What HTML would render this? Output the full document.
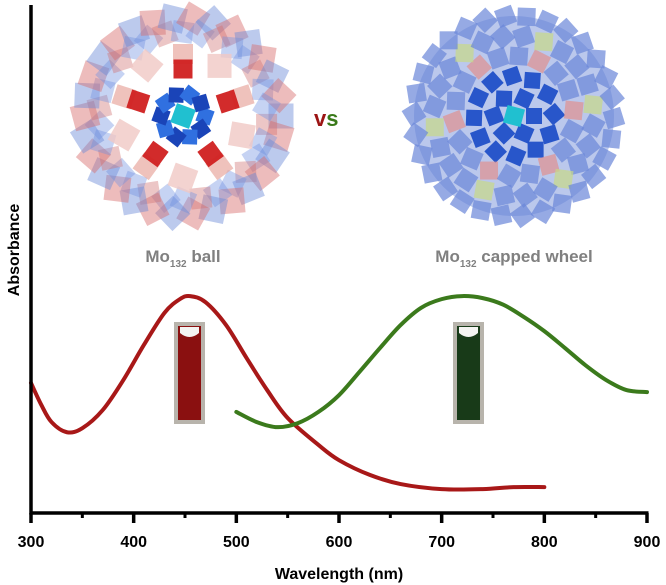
<!DOCTYPE html>
<html><head><meta charset="utf-8"><style>
html,body{margin:0;padding:0;background:#fff;width:666px;height:585px;overflow:hidden}
svg text{font-family:"Liberation Sans",Arial,sans-serif;font-weight:bold}
</style></head><body>
<svg id="chart" width="666" height="585" viewBox="0 0 666 585" xmlns="http://www.w3.org/2000/svg">
<g id="mol"></g>
<g id="marks"></g>
<g id="axes"></g>
<text x="0" y="0" transform="translate(19,250) rotate(-90)" text-anchor="middle" font-size="16" fill="#000">Absorbance</text>
<text x="339" y="579" text-anchor="middle" font-size="16" fill="#000">Wavelength (nm)</text>
<text x="183" y="262" text-anchor="middle" font-size="17" fill="#808080">Mo<tspan font-size="10" dy="5">132</tspan><tspan dy="-5"> ball</tspan></text>
<text x="514" y="262" text-anchor="middle" font-size="17" fill="#808080">Mo<tspan font-size="10" dy="5">132</tspan><tspan dy="-5"> capped wheel</tspan></text>
<text x="314" y="126" font-size="22"><tspan fill="#9c1414">v</tspan><tspan fill="#3a7a1a">s</tspan></text>
</svg>
<script>
const ticks=[300,400,500,600,700,800,900];
const redX=[300,310,320,335,350,370,390,410,430,445,455,470,490,510,530,550,580,600,630,660,700,740,770,800];
const redY=[0.256,0.213,0.179,0.159,0.167,0.203,0.262,0.331,0.394,0.421,0.427,0.415,0.370,0.305,0.242,0.187,0.134,0.104,0.075,0.057,0.047,0.047,0.051,0.051];
const greenX=[500,520,540,560,580,600,620,640,660,680,700,720,740,760,780,800,820,840,860,880,900];
const greenY=[0.199,0.179,0.169,0.177,0.199,0.232,0.278,0.325,0.370,0.404,0.421,0.427,0.423,0.410,0.386,0.358,0.325,0.291,0.262,0.242,0.238];

const NS="http://www.w3.org/2000/svg";
const x0=31,x1=647,yb=513,yt=5;
const xs=v=>x0+(v-300)/(900-300)*(x1-x0);
const ys=v=>yb-v*(yb-yt);
function mk(t,a,p){const e=document.createElementNS(NS,t);for(const k in a)e.setAttribute(k,a[k]);p.appendChild(e);return e;}
const axes=document.getElementById('axes'),marks=document.getElementById('marks'),mol=document.getElementById('mol');

let l=mk('line',{x1:x0,y1:yt,x2:x0,y2:yb+1.5,stroke:'#000','stroke-width':3.5},axes);

l=mk('line',{x1:x0-1.5,y1:yb,x2:x1+1.5,y2:yb,stroke:'#000','stroke-width':3.5},axes);

ticks.forEach((t,i)=>{
  const tk=mk('line',{x1:xs(t),y1:yb,x2:xs(t),y2:yb+10,stroke:'#000','stroke-width':3.5},axes);
  
  
  const tx=mk('text',{x:xs(t),y:yb+34,'text-anchor':'middle','font-size':16,fill:'#000'},axes);
  tx.textContent=t;
  
  
  if(i<ticks.length-1){
    const m=mk('line',{x1:xs(t+50),y1:yb,x2:xs(t+50),y2:yb+5,stroke:'#000','stroke-width':3},axes);
    
    
  }
});

function smoothPath(X,Y){
  const p=X.map((x,i)=>[xs(x),ys(Y[i])]);
  let d='M'+p[0][0]+','+p[0][1];
  for(let i=0;i<p.length-1;i++){
    const a=p[i-1]||p[i],b=p[i],c=p[i+1],e=p[i+2]||c;
    d+=' C'+(b[0]+(c[0]-a[0])/6)+','+(b[1]+(c[1]-a[1])/6)+' '+(c[0]-(e[0]-b[0])/6)+','+(c[1]-(e[1]-b[1])/6)+' '+c[0]+','+c[1];
  }
  return d;
}

function vial(x,col,name){
  const g=mk('g',{},marks);
  
  
  mk('rect',{x:x,y:322,width:31,height:102,fill:'#b8b4ac'},g);
  mk('rect',{x:x+4,y:326,width:23,height:94,fill:col},g);
  mk('path',{d:`M${x+6},327 h19 v6 q-9.5,8 -19,0 z`,fill:'#f4f4f2'},g);
}
vial(174,'#8a1010','red-vial');
vial(453,'#183a18','green-vial');

const r=mk('path',{d:smoothPath(redX,redY),fill:'none',stroke:'#a81818','stroke-width':4,'stroke-linecap':'round'},marks);


const g=mk('path',{d:smoothPath(greenX,greenY),fill:'none',stroke:'#3b7a1c','stroke-width':4,'stroke-linecap':'round'},marks);



function sq(cx,cy,s,rot,fill,op,p){mk('rect',{x:cx-s/2,y:cy-s/2,width:s,height:s,fill:fill,'fill-opacity':op,transform:`rotate(${rot} ${cx} ${cy})`},p);}
const ball=mk('g',{},mol);


let cx=183,cy=116;
for(let i=0;i<30;i++){const a=i/30*2*Math.PI;
  sq(cx+98*Math.cos(a),cy+98*Math.sin(a),25,i*17,i%2?'#d86a6a':'#6a8ad8',0.45,ball);
  sq(cx+84*Math.cos(a+0.1),cy+84*Math.sin(a+0.1),21,i*29,i%3?'#7090e0':'#d07070',0.4,ball);}
for(let i=0;i<5;i++){const a=-Math.PI/2+i/5*2*Math.PI;
  sq(cx+62*Math.cos(a+0.63),cy+62*Math.sin(a+0.63),24,i*10,'#f0c8c4',0.8,ball);
  sq(cx+62*Math.cos(a),cy+62*Math.sin(a),20,i*72,'#e8a8a0',0.7,ball);
  sq(cx+47*Math.cos(a),cy+47*Math.sin(a),19,i*72,'#d02020',0.95,ball);}
for(let i=0;i<10;i++){const a=i/10*2*Math.PI;sq(cx+22*Math.cos(a),cy+22*Math.sin(a),15,i*36+20,i%2?'#1a44b8':'#3070e0',1,ball);}
sq(cx,cy,20,20,'#20c0d0',1,ball);

const wh=mk('g',{},mol);


cx=514;cy=116;
mk('circle',{cx:cx,cy:cy,r:100,fill:'#8ea4e0','fill-opacity':0.6},wh);
for(let ring=0;ring<5;ring++){const R=20+ring*20,n=6+ring*6;
  for(let i=0;i<n;i++){const a=i/n*2*Math.PI+ring;
    const col=ring==2&&i%3==0?'#e09090':(ring==3&&i%4==0?'#c8d888':(ring<2?'#2050c8':'#6a86d8'));
    sq(cx+R*Math.cos(a),cy+R*Math.sin(a),ring<2?16:18,i*23,col,ring<2?0.95:0.7,wh);}}
sq(cx,cy,18,15,'#20c0d0',1,wh);
</script>
</body></html>
